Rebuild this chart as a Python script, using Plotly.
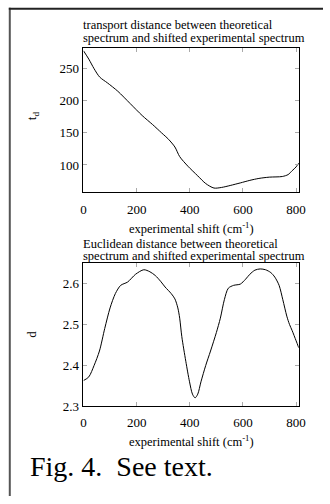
import plotly.graph_objects as go

# Top panel: transport distance t_d vs experimental shift
shift_top = [0, 20, 40, 61, 90, 129, 175, 221, 260, 294, 320, 344, 362, 393, 430, 460,
             491, 520, 552, 590, 626, 660, 699, 748, 770, 785, 800, 810]
td_vals = [278, 265, 250, 237, 228, 215, 196, 177, 163, 150, 140, 128, 113, 98, 83, 71,
           64, 65, 68, 72, 76, 79, 81, 82, 85, 91, 97, 103]

# Bottom panel: Euclidean distance d vs experimental shift
shift_bot = [0, 20, 40, 60, 80, 100, 120, 140, 166, 196, 227, 250, 270, 290, 307, 330,
             344, 355, 362, 370, 385, 399, 410, 420, 430, 442, 460, 478, 500, 515, 530,
             545, 565, 590, 610, 626, 645, 665, 685, 705, 720, 736, 750, 765, 775, 785,
             800, 810]
d_vals = [2.363, 2.372, 2.40, 2.435, 2.49, 2.54, 2.575, 2.595, 2.603, 2.622, 2.633, 2.628,
          2.619, 2.605, 2.591, 2.575, 2.562, 2.54, 2.515, 2.47, 2.41, 2.36, 2.33, 2.321,
          2.33, 2.36, 2.40, 2.435, 2.48, 2.515, 2.56, 2.588, 2.595, 2.598, 2.61, 2.622,
          2.632, 2.635, 2.633, 2.626, 2.615, 2.595, 2.56, 2.52, 2.5, 2.485, 2.46, 2.443]

x_ticks = [0, 200, 400, 600, 800]
top_yticks = [100, 150, 200, 250]
bot_yticks = [2.3, 2.4, 2.5, 2.6]

W, H = 330, 504
FONT = "Liberation Serif"

def px(x):
    return x / W

def py(y):
    return 1 - y / H

fig = go.Figure()
fig.add_trace(go.Scatter(x=shift_top, y=td_vals, mode="lines", xaxis="x", yaxis="y",
                         line=dict(color="black", width=1, shape="spline", smoothing=0.8),
                         showlegend=False))
fig.add_trace(go.Scatter(x=shift_bot, y=d_vals, mode="lines", xaxis="x2", yaxis="y2",
                         line=dict(color="black", width=1, shape="spline", smoothing=0.8),
                         showlegend=False))

axis_common = dict(showline=True, linecolor="black", linewidth=1, mirror="ticks",
                   ticks="inside", ticklen=4, tickcolor="#aaa", tickwidth=1,
                   showgrid=False, zeroline=False,
                   tickfont=dict(family=FONT, size=13, color="black"))

fig.update_layout(
    width=W, height=H,
    margin=dict(l=0, r=0, t=0, b=0),
    paper_bgcolor="white", plot_bgcolor="white",
    xaxis=dict(domain=[px(83), px(305)], range=[0, 810], tickvals=x_ticks,
               anchor="y", ticklabelstandoff=5, **axis_common),
    yaxis=dict(domain=[py(195), py(49)], range=[58, 282], tickvals=top_yticks,
               anchor="x", ticklabelstandoff=1, **axis_common),
    xaxis2=dict(domain=[px(83), px(305)], range=[0, 810], tickvals=x_ticks,
                anchor="y2", ticklabelstandoff=4, **axis_common),
    yaxis2=dict(domain=[py(413), py(267)], range=[2.3, 2.65], tickvals=bot_yticks,
                tickformat=".1f", anchor="x2", ticklabelstandoff=1, **axis_common),
)

def ann(text, x, y, size, xanchor="left", angle=0):
    fig.add_annotation(text=text, xref="paper", yref="paper", x=px(x), y=py(y),
                       xanchor=xanchor, yanchor="middle", showarrow=False, textangle=angle,
                       font=dict(family=FONT, size=size, color="black"))

ann("transport distance between theoretical", 80, 25.5, 12.5)
ann("spectrum and shifted experimental spectrum", 80, 38.5, 12.5)
ann("Euclidean distance between theoretical", 80, 247.5, 12.5)
ann("spectrum and shifted experimental spectrum", 80, 260.5, 12.5)
ann("experimental shift (cm<sup>-1</sup>)", 194, 232, 12.5, xanchor="center")
ann("experimental shift (cm<sup>-1</sup>)", 194, 448, 12.5, xanchor="center")
ann("t<sub>d</sub>", 30, 118, 13, xanchor="center", angle=-90)
ann("d", 30, 340, 13, xanchor="center", angle=-90)
ann("Fig. 4.\u00a0\u00a0See text.", 26, 474, 28)

# page frame lines
fig.add_shape(type="line", xref="paper", yref="paper", x0=px(7), x1=px(7), y0=py(8), y1=0,
              line=dict(color="#555", width=2))
fig.add_shape(type="line", xref="paper", yref="paper", x0=px(6), x1=1, y0=py(9), y1=py(9),
              line=dict(color="#222", width=2))

fig.write_html("out.html")
